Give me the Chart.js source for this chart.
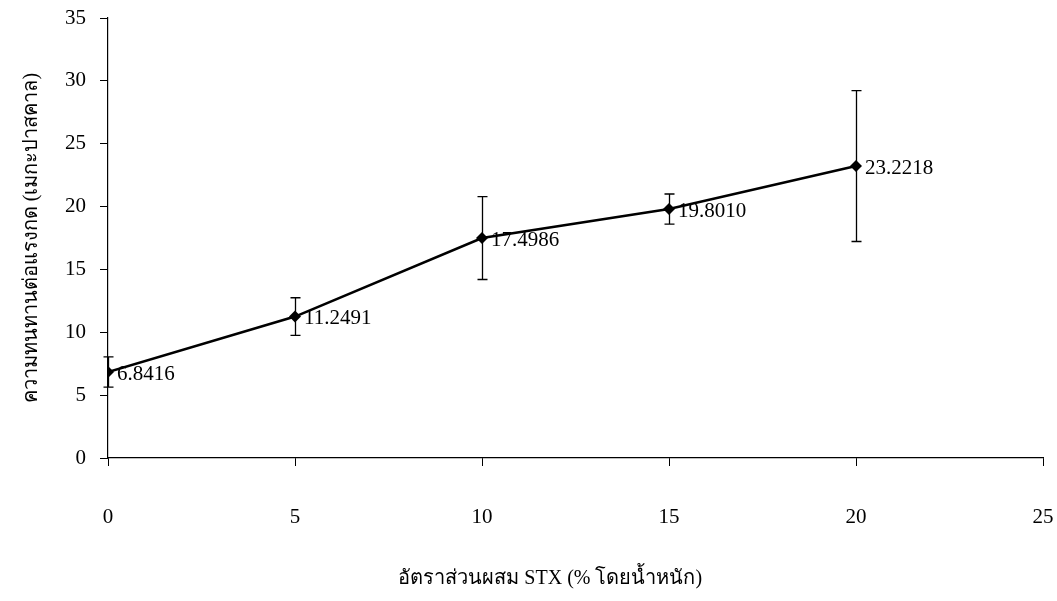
<!DOCTYPE html>
<html>
<head>
<meta charset="utf-8">
<script src="https://cdn.jsdelivr.net/npm/chart.js@4"></script>
<style>
  html, body { margin: 0; padding: 0; background: #ffffff; }
  #wrap { width: 1057px; height: 601px; position: relative; }
</style>
</head>
<body>
<div id="wrap"><canvas id="c" width="1057" height="601"></canvas></div>
<script>
// STX content (% by weight) and compressive strength (MPa)
const stxContent = [0, 5, 10, 15, 20];
const strength = [6.8416, 11.2491, 17.4986, 19.8010, 23.2218];
// half-width of each error bar (MPa)
const strengthError = [1.2, 1.5, 3.3, 1.2, 6.0];
const xTicks = [0, 5, 10, 15, 20, 25];
const yTicks = [0, 5, 10, 15, 20, 25, 30, 35];
const xTitle = 'อัตราส่วนผสม STX (% โดยน้ำหนัก)';
const yTitle = 'ความทนทานต่อแรงกด (เมกะปาสคาล)';

const FONT = "'Liberation Serif', 'Times New Roman', serif";
const FONT_SIZE = 21;
const TITLE_SIZE = 20;

const points = stxContent.map((x, i) => ({ x: x, y: strength[i] }));

// vertical error bars with end caps
const errorBars = {
  id: 'errorBars',
  afterDatasetsDraw(chart) {
    const ctx = chart.ctx;
    const xs = chart.scales.x, ys = chart.scales.y;
    ctx.save();
    ctx.strokeStyle = '#000';
    ctx.lineWidth = 1.3;
    stxContent.forEach((x, i) => {
      const px = Math.round(xs.getPixelForValue(x)) + 0.5;
      const top = ys.getPixelForValue(strength[i] + strengthError[i]);
      const bot = ys.getPixelForValue(strength[i] - strengthError[i]);
      ctx.beginPath();
      ctx.moveTo(px, top); ctx.lineTo(px, bot);
      ctx.moveTo(px - 5, top); ctx.lineTo(px + 5, top);
      ctx.moveTo(px - 5, bot); ctx.lineTo(px + 5, bot);
      ctx.stroke();
    });
    ctx.restore();
  }
};

// value labels to the right of each point, and the x-axis caption
const valueLabels = {
  id: 'valueLabels',
  afterDatasetsDraw(chart) {
    const ctx = chart.ctx;
    const xs = chart.scales.x, ys = chart.scales.y;
    ctx.save();
    ctx.fillStyle = '#000';
    ctx.font = FONT_SIZE + 'px ' + FONT;
    ctx.textAlign = 'left';
    ctx.textBaseline = 'middle';
    stxContent.forEach((x, i) => {
      const px = xs.getPixelForValue(x);
      const py = ys.getPixelForValue(strength[i]);
      ctx.fillText(strength[i].toFixed(4), px + 9, py + 2);
    });
    // axis caption, centred a little left of the plot centre
    const ca = chart.chartArea;
    ctx.font = TITLE_SIZE + 'px ' + FONT;
    ctx.textAlign = 'center';
    ctx.fillText(xTitle, ca.left + (ca.right - ca.left) * 0.473, chart.height - 22);
    ctx.restore();
  }
};

new Chart(document.getElementById('c'), {
  type: 'line',
  data: {
    datasets: [{
      data: points,
      borderColor: '#000',
      borderWidth: 2.6,
      backgroundColor: '#000',
      pointStyle: 'rectRot',
      pointRadius: 6,
      pointBorderWidth: 0,
      pointBackgroundColor: '#000',
      tension: 0
    }]
  },
  options: {
    responsive: false,
    animation: false,
    devicePixelRatio: 1,
    layout: { padding: { top: 18, right: 14, left: 0, bottom: 0 } },
    plugins: { legend: { display: false }, tooltip: { enabled: false } },
    scales: {
      x: {
        type: 'linear',
        min: 0, max: 25,
        afterBuildTicks: (s) => { s.ticks = xTicks.map(v => ({ value: v })); },
        afterFit: (s) => { s.height = 143; s.paddingLeft = 0; s.paddingRight = 0; },
        grid: { display: true, drawOnChartArea: false, drawTicks: true, tickLength: 8, tickColor: '#000', tickWidth: 1 },
        border: { display: true, color: '#000', width: 1.2 },
        ticks: { color: '#000', font: { family: FONT, size: FONT_SIZE }, padding: 39, maxRotation: 0 },
        title: { display: false }
      },
      y: {
        type: 'linear',
        min: 0, max: 35,
        afterBuildTicks: (s) => { s.ticks = yTicks.map(v => ({ value: v })); },
        afterFit: (s) => { s.width = 108; s.paddingTop = 0; s.paddingBottom = 0; },
        grid: { display: true, drawOnChartArea: false, drawTicks: true, tickLength: 8, tickColor: '#000', tickWidth: 1 },
        border: { display: true, color: '#000', width: 1.2 },
        ticks: { color: '#000', font: { family: FONT, size: FONT_SIZE }, padding: 14 },
        title: {
          display: true,
          text: yTitle,
          color: '#000',
          font: { family: FONT, size: TITLE_SIZE },
          padding: { top: 20, bottom: 0 }
        }
      }
    }
  },
  plugins: [errorBars, valueLabels]
});
</script>
</body>
</html>
